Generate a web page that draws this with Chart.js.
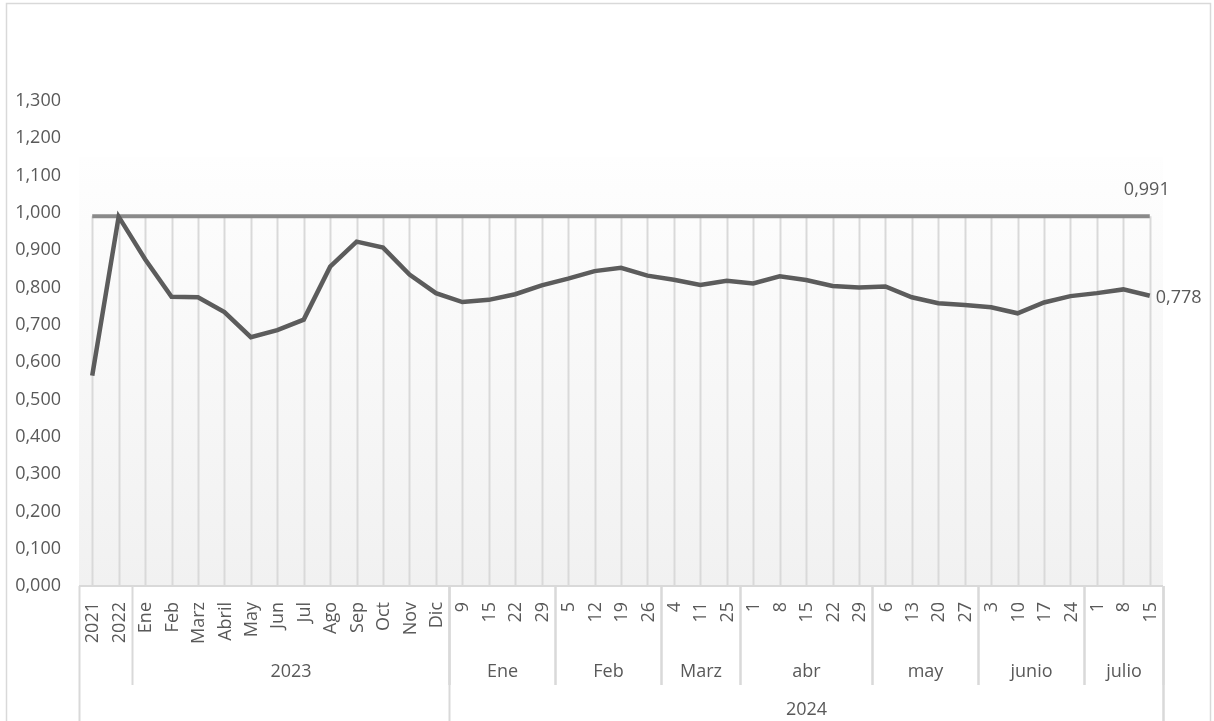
<!DOCTYPE html>
<html>
<head>
<meta charset="utf-8">
<script src="https://cdn.jsdelivr.net/npm/chart.js@4.4.1/dist/chart.umd.min.js"></script>
<style>
    html, body { margin: 0; padding: 0; background: #fff; }
    #wrap { width: 1214px; height: 721px; position: relative; }
</style>
</head>
<body>
<div id="wrap"><canvas id="chart"></canvas></div>
<script>
'use strict';

// Level 1: one label per point
const categories = ['2021', '2022',
    'Ene', 'Feb', 'Marz', 'Abril', 'May', 'Jun', 'Jul', 'Ago', 'Sep', 'Oct', 'Nov', 'Dic',
    '9', '15', '22', '29', '5', '12', '19', '26', '4', '11', '25',
    '1', '8', '15', '22', '29', '6', '13', '20', '27', '3', '10', '17', '24', '1', '8', '15'];

// Level 2 / level 3 groups (label + number of categories), first two points are ungrouped
const monthGroups = ['2023', 'Ene', 'Feb', 'Marz', 'abr', 'may', 'junio', 'julio'];
const monthCounts = [12, 4, 4, 3, 5, 4, 4, 3];
const yearGroups = ['2024'];
const yearCounts = [27];
const ungrouped = 2;

const values = [0.564, 0.990,
    0.876, 0.775, 0.774, 0.734, 0.667, 0.686, 0.714, 0.856, 0.923, 0.907, 0.835, 0.785,
    0.761, 0.767, 0.782, 0.806, 0.824, 0.844, 0.853, 0.832, 0.821, 0.807, 0.818,
    0.811, 0.830, 0.820, 0.804, 0.800, 0.803, 0.774, 0.758, 0.753, 0.747, 0.731, 0.760, 0.777, 0.785, 0.795, 0.778];

const target = [0.991, 0.991, 0.991, 0.991, 0.991, 0.991, 0.991, 0.991, 0.991, 0.991,
    0.991, 0.991, 0.991, 0.991, 0.991, 0.991, 0.991, 0.991, 0.991, 0.991,
    0.991, 0.991, 0.991, 0.991, 0.991, 0.991, 0.991, 0.991, 0.991, 0.991,
    0.991, 0.991, 0.991, 0.991, 0.991, 0.991, 0.991, 0.991, 0.991, 0.991, 0.991];

const yMin = 0, yMax = 1.3, yStep = 0.1;

const FONT = '"Open Sans", "DejaVu Sans", sans-serif';
const TEXT = '#595959';
const LINE_LIGHT = '#d9d9d9';

function fmt(v) {
    return v.toFixed(3).replace('.', ',');
}

const excelPlugin = {
    id: 'excelLook',
    beforeDatasetsDraw: function (chart) {
        const ctx = chart.ctx;
        const xs = chart.scales.x, ys = chart.scales.y;
        const a = chart.chartArea;

        // plot area gradient
        const top = ys.getPixelForValue(1.15);
        const g = ctx.createLinearGradient(0, top, 0, a.bottom);
        g.addColorStop(0, '#fefefe');
        g.addColorStop(1, '#f1f1f1');
        ctx.save();
        ctx.fillStyle = g;
        ctx.fillRect(a.left, top, a.right - a.left, a.bottom - top);

        // drop lines
        ctx.strokeStyle = LINE_LIGHT;
        ctx.lineWidth = 2;
        for (let i = 0; i < categories.length; i++) {
            const x = Math.round(xs.getPixelForValue(i)) + 0.5;
            ctx.beginPath();
            ctx.moveTo(x, ys.getPixelForValue(Math.max(target[i], values[i])));
            ctx.lineTo(x, a.bottom);
            ctx.stroke();
        }
        ctx.restore();
    },
    afterDraw: function (chart) {
        const ctx = chart.ctx;
        const xs = chart.scales.x, ys = chart.scales.y;
        const a = chart.chartArea;
        const n = categories.length;
        const half = (xs.getPixelForValue(1) - xs.getPixelForValue(0)) / 2;
        const edge = i => Math.round(xs.getPixelForValue(i) - half) + 0.5;

        ctx.save();
        // outer border
        ctx.strokeStyle = LINE_LIGHT;
        ctx.lineWidth = 1.5;
        ctx.strokeRect(6.5, 3.5, 1204, 740);

        // axis line
        ctx.lineWidth = 2;
        ctx.beginPath();
        ctx.moveTo(a.left, a.bottom);
        ctx.lineTo(a.right, a.bottom);
        ctx.stroke();

        const lvl2Bottom = a.bottom + 99;
        const bottom = chart.height;

        // outer edges of category table
        ctx.beginPath();
        ctx.moveTo(edge(0), a.bottom); ctx.lineTo(edge(0), bottom);
        ctx.moveTo(edge(n), a.bottom); ctx.lineTo(edge(n), bottom);
        ctx.stroke();

        // level 1 labels, rotated
        ctx.fillStyle = TEXT;
        ctx.font = '18px ' + FONT;
        ctx.textAlign = 'right';
        ctx.textBaseline = 'middle';
        categories.forEach(function (lab, i) {
            ctx.save();
            ctx.translate(xs.getPixelForValue(i), a.bottom + 16);
            ctx.rotate(-Math.PI / 2);
            ctx.fillText(lab, 0, 1);
            ctx.restore();
        });

        // level 2 groups
        ctx.textAlign = 'center';
        let start = ungrouped;
        monthGroups.forEach(function (lab, k) {
            const end = start + monthCounts[k];
            const x0 = edge(start), x1 = edge(end);
            ctx.beginPath();
            ctx.moveTo(x0, a.bottom); ctx.lineTo(x0, lvl2Bottom);
            ctx.moveTo(x1, a.bottom); ctx.lineTo(x1, lvl2Bottom);
            ctx.stroke();
            ctx.fillText(lab, (x0 + x1) / 2, a.bottom + 86);
            start = end;
        });

        // level 3 groups
        start = ungrouped + monthCounts[0];
        yearGroups.forEach(function (lab, k) {
            const end = start + yearCounts[k];
            const x0 = edge(start), x1 = edge(end);
            ctx.beginPath();
            ctx.moveTo(x0, a.bottom); ctx.lineTo(x0, bottom);
            ctx.moveTo(x1, a.bottom); ctx.lineTo(x1, bottom);
            ctx.stroke();
            ctx.fillText(lab, (x0 + x1) / 2, a.bottom + 124);
            start = end;
        });

        // data labels on last points
        const last = n - 1;
        const lx = xs.getPixelForValue(last);
        ctx.textAlign = 'center';
        ctx.fillText(fmt(target[last]), lx - 3, ys.getPixelForValue(target[last]) - 26);
        ctx.textAlign = 'left';
        ctx.fillText(fmt(values[last]), lx + 6, ys.getPixelForValue(values[last]) + 2);
        ctx.restore();
    }
};

new Chart(document.getElementById('chart'), {
    type: 'line',
    data: {
        labels: categories,
        datasets: [{
            label: 'Índice',
            data: values,
            borderColor: '#5c5c5c',
            borderWidth: 4.5,
            pointRadius: 0,
            tension: 0,
            order: 1
        }, {
            label: 'Meta',
            data: target,
            borderColor: '#8a8a8a',
            borderWidth: 4,
            pointRadius: 0,
            tension: 0,
            order: 2
        }]
    },
    options: {
        responsive: true,
        maintainAspectRatio: false,
        animation: false,
        devicePixelRatio: 1,
        layout: { padding: { left: 7, right: 51, top: 101, bottom: 135 } },
        plugins: {
            legend: { display: false },
            tooltip: { enabled: false }
        },
        scales: {
            x: {
                display: false,
                offset: true
            },
            y: {
                min: yMin,
                max: yMax,
                afterFit: function (s) { s.width = 72; },
                grid: { display: false, drawTicks: false },
                border: { display: false },
                ticks: {
                    stepSize: yStep,
                    padding: 18,
                    color: TEXT,
                    font: { family: FONT, size: 18 },
                    callback: function (v) { return fmt(v); }
                }
            }
        }
    },
    plugins: [excelPlugin]
});
</script>
</body>
</html>
